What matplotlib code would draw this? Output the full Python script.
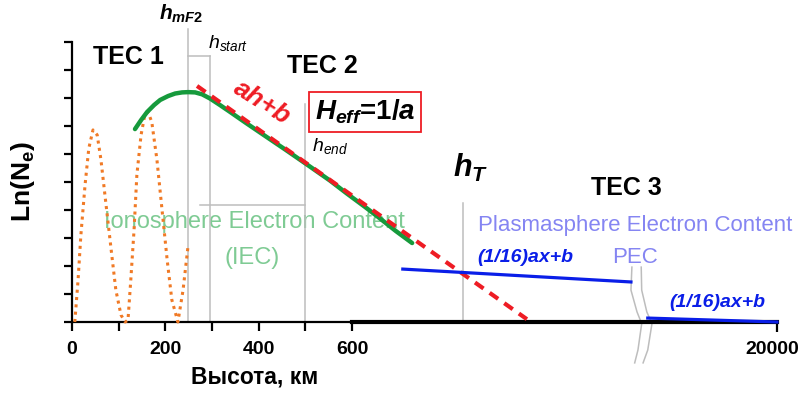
import matplotlib
matplotlib.use("Agg")
import matplotlib.pyplot as plt
from matplotlib.transforms import ScaledTranslation

plt.rcParams["font.family"] = "Liberation Sans"
plt.rcParams["mathtext.fontset"] = "custom"
plt.rcParams["mathtext.rm"] = "Liberation Sans:bold"
plt.rcParams["mathtext.it"] = "Liberation Sans:italic:bold"
plt.rcParams["mathtext.bf"] = "Liberation Sans:bold"
plt.rcParams["mathtext.sf"] = "Liberation Sans:italic"

GREEN = "#169a3c"
RED = "#ee1c24"
ORANGE = "#f07a26"
BLUE = "#0a1ee8"
GRAY = "#bdbdbd"
IEC_COLOR = "#7fcb94"
PEC_COLOR = "#8585f2"

# x: height in km up to ~1000, then squeezed to 20000 km at the right end
X_END = 1511
tick_pos = [0, 100, 200, 300, 400, 500, 600]
tick_labels = ["0", "", "200", "", "400", "", "600"]

# lower ionosphere (dotted)
orange_h = [6, 13, 19, 28, 36, 45, 54, 62, 73, 84, 94, 105, 114,
            120, 126, 133, 139, 148, 156, 163, 171, 182, 193, 204, 214, 227, 238, 249]
orange_ln = [0.0, 1.5, 3.1, 4.9, 6.2, 6.86, 6.68, 5.8, 4.18, 2.57, 1.14, 0.25, 0.0,
             0.07, 1.5, 3.29, 5.25, 6.68, 7.39, 7.5, 7.14, 5.8, 4.0, 2.21, 0.79, 0.0, 1.14, 2.75]

# electron density profile
green_h = [135, 148, 161, 176, 189, 206, 221, 236, 249, 264, 279, 296, 317, 339,
           371, 409, 457, 504, 553, 589, 628, 660, 694, 729]
green_ln = [6.89, 7.21, 7.5, 7.75, 7.93, 8.07, 8.16, 8.2, 8.21, 8.2, 8.13, 7.98, 7.75, 7.5,
            7.13, 6.7, 6.16, 5.62, 5.05, 4.59, 4.11, 3.7, 3.25, 2.82]

# linear fit ah+b
fit_h = [268, 975]
fit_ln = [8.43, 0.1]

# plasmasphere segments (1/16)ax+b
pec1_h = [709, 1198]
pec1_ln = [1.89, 1.43]
pec2_h = [1234, X_END]
pec2_ln = [0.14, 0.0]

# marker heights
h_mf2 = 249
h_start = 296
h_end = 500
h_t = 838
h_mf2_top, h_start_top, h_end_top, h_t_top = 10.46, 9.5, 7.79, 4.25
iec_bar_h = [274, 500]
iec_bar_ln = [4.18, 4.18]

# axis break marks
brk1_h = [1200, 1198, 1211, 1221, 1213, 1206]
brk2_h = [1220, 1221, 1232, 1243, 1234, 1224]
brk_ln = [1.96, 1.14, 0.36, -0.06, -1.0, -1.46]

fig = plt.figure(figsize=(7.99, 3.94), dpi=100)
ax = fig.add_axes([72 / 799, 1 - 322 / 394, 705 / 799, 280 / 394])
ax.set_xlim(0, X_END)
ax.set_ylim(0, 10)

for s in ["top", "right"]:
    ax.spines[s].set_visible(False)
for s in ["left", "bottom"]:
    ax.spines[s].set_linewidth(1.6)

ax.set_xticks(tick_pos, labels=tick_labels)
ax.set_xticks([X_END], labels=["20000"], minor=True)
ax.set_yticks(range(11), labels=[])
ax.tick_params(axis="x", which="both", direction="out", length=6.5, width=1.6,
               pad=7, labelsize=14)
ax.tick_params(axis="x", which="minor", length=7, pad=6.5)
ax.tick_params(axis="y", direction="out", length=6, width=1.6)
for lbl in ax.get_xticklabels(which="both"):
    lbl.set_fontweight("bold")
# the far-right label sits a bit left of its tick, as in the original
for lbl in ax.get_xticklabels(which="minor"):
    lbl.set_transform(lbl.get_transform() + ScaledTranslation(-5 / 100, 0, fig.dpi_scale_trans))

ax.set_xlabel("Высота, км", fontsize=16.5, fontweight="bold")
ax.xaxis.set_label_coords((255 - 72) / 705, -0.155)
ax.set_ylabel(r"$\mathrm{Ln(N_e)}$", fontsize=19)
ax.yaxis.set_label_coords(-0.049, 0.5)

# thick part of the axis beyond 600 km
ax.plot([600, X_END], [0, 0], color="black", lw=3, clip_on=False, zorder=4)

# grey guide lines
gkw = dict(color=GRAY, lw=1.1, clip_on=False, zorder=2)
ax.plot([h_mf2, h_mf2], [0, h_mf2_top], **gkw)
ax.plot([h_start, h_start], [0, h_start_top], **gkw)
ax.plot([h_mf2, h_start], [h_start_top, h_start_top], **gkw)
ax.plot([h_end, h_end], [0, h_end_top], **gkw)
ax.plot(iec_bar_h, iec_bar_ln, **gkw)
ax.plot([h_t, h_t], [0, h_t_top], **gkw)
ax.plot(brk1_h, brk_ln, **gkw)
ax.plot(brk2_h, brk_ln, **gkw)

ax.plot(orange_h, orange_ln, color=ORANGE, lw=2.2, ls=(0, (1, 1.4)), zorder=3, clip_on=False)
ax.plot(green_h, green_ln, color=GREEN, lw=3.2, zorder=3, solid_capstyle="round",
        solid_joinstyle="round")
ax.plot(fit_h, fit_ln, color=RED, lw=3, ls=(0, (2.5, 1.8)), zorder=4)
ax.plot(pec1_h, pec1_ln, color=BLUE, lw=2.3, zorder=4)
ax.plot(pec2_h, pec2_ln, color=BLUE, lw=2.3, zorder=5, clip_on=False)

# region labels
ax.text(392, 3.57, "Ionosphere Electron Content", color=IEC_COLOR, fontsize=17,
        ha="center", va="center", zorder=1)
ax.text(386, 2.29, "(IEC)", color=IEC_COLOR, fontsize=17,
        ha="center", va="center", zorder=1)
ax.text(1206, 3.46, "Plasmasphere Electron Content", color=PEC_COLOR, fontsize=16,
        ha="center", va="center", zorder=1)
ax.text(1206, 2.29, "PEC", color=PEC_COLOR, fontsize=16,
        ha="center", va="center", zorder=1)

tec = dict(fontsize=18, fontweight="bold", ha="center", va="center")
ax.text(122, 9.46, "TEC 1", **tec)
ax.text(536, 9.14, "TEC 2", **tec)
ax.text(1189, 4.79, "TEC 3", **tec)

ax.text(234, 11.0, r"$h_{mF2}$", fontsize=15, ha="center", va="center")
ax.text(334, 9.96, r"$\mathsf{h_{start}}$", fontsize=14, ha="center", va="center")
ax.text(553, 6.29, r"$\mathsf{h_{end}}$", fontsize=14, ha="center", va="center")
ax.text(855, 5.5, r"$h_T$", fontsize=22, ha="center", va="center")

ax.text(407, 7.82, "ah+b", color=RED, fontsize=19, fontweight="bold", style="italic",
        rotation=-32, ha="center", va="center", rotation_mode="anchor")
ax.text(628, 7.5, r"$H_{eff}$=1/$a$", fontsize=20, fontweight="bold",
        ha="center", va="center",
        bbox=dict(boxstyle="square,pad=0.2", fc="white", ec=RED, lw=1.3))

pkw = dict(color=BLUE, fontsize=14, fontweight="bold", style="italic",
           ha="center", va="center", zorder=6)
ax.text(971, 2.29, "(1/16)ax+b", **pkw)
ax.text(1384, 0.68, "(1/16)ax+b", **pkw)

fig.savefig("out.png", dpi=100)
